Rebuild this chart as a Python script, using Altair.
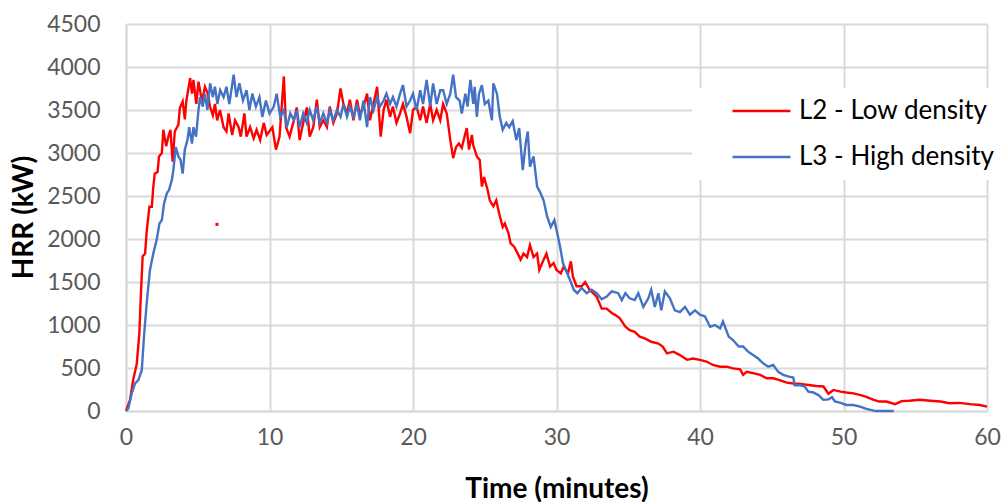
import altair as alt
import pandas as pd

# Fire test heat release rate, two fuel-load densities
SERIES = ["L2 - Low density", "L3 - High density"]
COLORS = ["#ff0000", "#4472c4"]

X_TICKS = [0, 10, 20, 30, 40, 50, 60]
Y_TICKS = [0, 500, 1000, 1500, 2000, 2500, 3000, 3500, 4000, 4500]

# L2 - low density: time (min) and HRR (kW)
L2_TIME = [
    0, 0.28, 0.5, 0.75, 0.93, 1.02, 1.16, 1.33, 1.44, 1.63,
    1.8, 1.9, 2.0, 2.2, 2.3, 2.5, 2.6, 2.8, 2.95, 3.1,
    3.25, 3.4, 3.65, 3.75, 3.95, 4.1, 4.2, 4.47, 4.6, 4.7,
    4.9, 5.05, 5.3, 5.5, 5.7, 5.85, 6.05, 6.2, 6.35, 6.55,
    6.8, 7.0, 7.15, 7.4, 7.6, 7.85, 8.0, 8.25, 8.4, 8.65,
    8.9, 9.1, 9.35, 9.6, 9.8, 10.2, 10.45, 10.7, 11.0, 11.15,
    11.4, 11.7,
    11.9, 12.1, 12.35, 12.6, 12.8, 13.05, 13.3, 13.5, 13.75, 14.0,
    14.2, 14.45, 14.7, 14.95, 15.15, 15.4, 15.6, 15.85, 16.1, 16.3,
    16.55, 16.8, 17.0, 17.25, 17.5, 17.75, 17.95, 18.15, 18.4, 18.6,
    18.85, 19.1, 19.3, 19.55, 19.8, 20.0, 20.25, 20.5, 20.7, 20.95,
    21.2, 21.4, 21.65, 21.9,
    22.1, 22.35, 22.6, 22.8, 23.0, 23.2, 23.4, 23.65, 23.75, 23.9,
    24.1, 24.2, 24.45, 24.65, 24.8, 24.95, 25.2, 25.35, 25.6, 25.8,
    26.0, 26.25, 26.4, 26.65, 26.8, 27.05, 27.3, 27.5, 27.7, 27.95,
    28.15, 28.4, 28.65, 28.8, 29.0, 29.3, 29.55, 29.8, 30.0, 30.3,
    30.5, 30.8, 31.0, 31.15, 31.4, 31.75, 32.0, 32.3, 32.55, 32.8,
    33.15, 33.5, 33.85,
    34.1, 34.4, 34.8, 35.1, 35.45, 35.8, 36.15, 36.6, 37.1, 37.4,
    37.7, 38.15, 38.6, 39.1, 39.5, 40.0, 40.45, 40.9, 41.4, 41.85,
    42.3, 42.8, 43.0, 43.25, 43.7, 44.2, 44.65, 45.1, 45.55,
    46.05, 46.5, 47.0, 47.7, 48.1, 48.6, 48.95, 49.3, 49.8, 50.2,
    50.7, 51.2, 51.6, 52.1, 52.5, 53.0, 53.6, 54.05, 54.6, 55.3,
    56.05, 56.75, 57.4, 58.1, 58.8, 59.5, 60.0,
]
L2_HRR = [
    0, 130, 360, 550, 900, 1290, 1800, 1830, 2085, 2375,
    2375, 2600, 2760, 2780, 2960, 3000, 3270, 3080, 3190, 3270,
    2900, 3250, 3330, 3520, 3600, 3390, 3600, 3870, 3690, 3850,
    3570, 3830, 3600, 3770, 3690, 3540, 3440, 3570, 3380, 3500,
    3300, 3250, 3460, 3210, 3380, 3300, 3190, 3460, 3190, 3300,
    3170, 3270, 3150, 3350, 3210, 3300, 3040, 3190, 3890, 3300,
    3190, 3380,
    3530, 3150, 3350, 3530, 3190, 3300, 3620, 3300, 3380, 3300,
    3540, 3350, 3460, 3750, 3570, 3460, 3620, 3380, 3620, 3440,
    3540, 3690, 3380, 3570, 3770, 3190, 3500, 3620, 3420, 3540,
    3350, 3460, 3570, 3420, 3230, 3500, 3540, 3380, 3540, 3350,
    3570, 3380, 3500, 3380,
    3570, 3460, 3150, 2940, 3070, 3110, 3060, 3230, 3290, 3040,
    3210, 3090, 2960, 2920, 2610, 2720, 2570, 2450, 2380, 2450,
    2300, 2140, 2180, 2070, 1950, 1910, 1830, 1760, 1830, 1790,
    1930, 1790, 1830, 1640, 1720, 1830, 1680, 1720, 1640, 1600,
    1680, 1600, 1740, 1560, 1450, 1450, 1500, 1410, 1370, 1330,
    1190, 1190, 1140,
    1115, 1080, 980, 940, 920, 865, 845, 805, 785, 750,
    670, 690, 650, 595, 610, 595, 575, 535, 515, 515,
    495, 485, 420, 455, 440, 420, 380, 380, 360,
    330, 320, 315, 300, 290, 285, 200, 245, 225, 215,
    205, 185, 165, 130, 110, 110, 80, 115, 120, 130,
    120, 110, 90, 95, 80, 70, 50,
]

# single outlying L2 sample logged during the growth phase
L2_STRAY_TIME = [6.34]
L2_STRAY_HRR = [2170]

# L3 - high density: time (min) and HRR (kW)
L3_TIME = [
    0, 0.16, 0.4, 0.63, 0.86, 1.1, 1.25, 1.44, 1.67, 1.9,
    2.14, 2.33, 2.5, 2.65, 2.84, 3.0, 3.2, 3.3, 3.47, 3.65,
    3.8, 3.95, 4.1, 4.28, 4.4, 4.6, 4.7, 4.88, 5.05, 5.16,
    5.35, 5.5, 5.67, 5.86, 6.05, 6.2, 6.37, 6.56, 6.8, 7.0,
    7.2, 7.5, 7.7, 7.9, 8.15, 8.4, 8.6, 8.8, 9.05, 9.3,
    9.5, 9.75, 10.0, 10.3, 10.5, 10.75, 11.0, 11.2, 11.45, 11.7,
    11.9, 12.1, 12.35, 12.6, 12.8, 13.05, 13.3, 13.5, 13.75, 14.0,
    14.2, 14.45, 14.7, 14.95, 15.15, 15.4, 15.6, 15.85, 16.1, 16.3,
    16.55, 16.8, 17.0, 17.25, 17.5, 17.7, 17.95, 18.15, 18.4, 18.6,
    18.85, 19.1, 19.3, 19.55, 19.8, 20.0, 20.25, 20.5, 20.7, 20.95,
    21.2, 21.4, 21.65, 21.9,
    22.1, 22.35, 22.6, 22.8, 23.0, 23.25, 23.4, 23.65, 23.8, 24.0,
    24.2, 24.3, 24.45, 24.6, 24.8, 25.0, 25.25, 25.5, 25.6, 25.85,
    26.05, 26.25, 26.5, 26.7, 26.95, 27.2, 27.4, 27.65, 27.85, 28.0,
    28.15, 28.4, 28.65, 28.9, 29.1, 29.35, 29.6, 29.85, 30.05, 30.25,
    30.45, 30.65, 30.95, 31.2, 31.45, 31.75, 32.1, 32.45, 32.8, 33.15,
    33.5, 33.85,
    34.3, 34.55, 34.8, 35.1, 35.45, 35.7, 36.05, 36.4, 36.6, 36.85,
    37.1, 37.3, 37.55, 37.9, 38.25, 38.6, 38.95, 39.3, 39.65, 40.0,
    40.35, 40.7, 41.05, 41.4, 41.6, 42.0, 42.3, 42.7, 43.0, 43.35,
    43.7, 44.05, 44.4, 44.75, 45.1, 45.45, 45.8, 46.2, 46.5, 46.6,
    46.95, 47.3, 47.55, 47.9, 48.25, 48.6, 48.95, 49.2, 49.4, 49.8,
    50.2, 50.7, 51.15, 51.6, 52.1, 52.3, 52.8, 53.5,
]
L3_HRR = [
    0, 30, 205, 320, 360, 475, 860, 1250, 1640, 1830,
    1990, 2180, 2220, 2410, 2530, 2570, 2690, 2800, 3070, 2960,
    2920, 2760, 3040, 3150, 3300, 3110, 3300, 3190, 3500, 3650,
    3540, 3690, 3500, 3810, 3650, 3770, 3570, 3730, 3650, 3770,
    3570, 3910, 3650, 3810, 3610, 3730, 3500, 3690, 3540, 3650,
    3420, 3610, 3460, 3540, 3690, 3420, 3500, 3300, 3460, 3380,
    3500, 3300, 3460, 3350, 3500, 3380, 3540, 3350, 3460, 3350,
    3500, 3380, 3500, 3420, 3570, 3420, 3540, 3420, 3570, 3380,
    3610, 3300, 3650, 3500, 3650, 3540, 3610, 3690, 3570, 3650,
    3540, 3690, 3790, 3540, 3610, 3690, 3500, 3730, 3570, 3850,
    3540, 3810, 3570, 3730,
    3730, 3570, 3690, 3910, 3650, 3610, 3460, 3690, 3540, 3850,
    3570, 3770, 3420, 3690, 3790, 3570, 3610, 3380, 3810, 3690,
    3420, 3270, 3350, 3300, 3370, 3150, 3290, 2800, 3110, 3250,
    2840, 2960, 2610, 2530, 2450, 2260, 2140, 2220, 2070, 1910,
    1720, 1640, 1520, 1410, 1370, 1430, 1370, 1410, 1370, 1300,
    1330, 1390,
    1370, 1290, 1370, 1310, 1290, 1370, 1210, 1310, 1410, 1210,
    1370, 1170, 1390, 1310, 1170, 1150, 1210, 1120, 1170, 1120,
    1100, 980, 1000, 960, 1040, 865, 825, 750, 750, 690,
    650, 610, 555, 515, 535, 455, 420, 400, 390, 300,
    300, 285, 225, 215, 185, 130, 135, 160, 110, 95,
    70, 70, 50, 25, 5, 0, 0, 0,
]

FONT = "Lato"
GRID = "#d9d9d9"

lines_df = pd.concat(
    [
        pd.DataFrame({"series": SERIES[0], "time": L2_TIME, "hrr": L2_HRR}),
        pd.DataFrame({"series": SERIES[1], "time": L3_TIME, "hrr": L3_HRR}),
    ],
    ignore_index=True,
)
stray_df = pd.DataFrame({"time": L2_STRAY_TIME, "hrr": L2_STRAY_HRR})

x_enc = alt.X(
    "time:Q",
    scale=alt.Scale(domain=[0, 60], nice=False),
    axis=alt.Axis(
        values=X_TICKS,
        title="Time (minutes)",
        grid=True,
        gridColor=GRID,
        gridWidth=2,
        domainColor=GRID,
        domainWidth=2,
        ticks=False,
        tickSize=0,
        labelFlush=False,
        labelFont=FONT,
        labelFontSize=23,
        labelColor="#595959",
        labelPadding=15,
        titleFont=FONT,
        titleFontSize=28,
        titleFontWeight="bold",
        titleColor="#000000",
        titleBaseline="alphabetic",
        titleY=86,
    ),
)
y_enc = alt.Y(
    "hrr:Q",
    scale=alt.Scale(domain=[0, 4500], nice=False),
    axis=alt.Axis(
        values=Y_TICKS,
        format="d",
        title="HRR (kW)",
        grid=True,
        gridColor=GRID,
        gridWidth=2,
        domainColor=GRID,
        domainWidth=2,
        ticks=False,
        tickSize=0,
        labelFont=FONT,
        labelFontSize=23,
        labelColor="#595959",
        labelPadding=26,
        titleFont=FONT,
        titleFontSize=28,
        titleFontWeight="bold",
        titleColor="#000000",
        titleBaseline="alphabetic",
        titleAngle=270,
        titleX=-94,
        titleY=193,
    ),
)

lines = alt.Chart(lines_df).mark_line(strokeWidth=2.4).encode(
    x=x_enc,
    y=y_enc,
    color=alt.Color(
        "series:N",
        scale=alt.Scale(domain=SERIES, range=COLORS),
        legend=alt.Legend(
            title=None,
            orient="none",
            legendX=566,
            legendY=64,
            fillColor="white",
            padding=3,
            symbolType="stroke",
            symbolSize=3364,
            symbolStrokeWidth=2.5,
            symbolOffset=36,
            clipHeight=40,
            rowPadding=6,
            labelFont=FONT,
            labelFontSize=26,
            labelColor="#000000",
            labelOffset=7,
            labelLimit=400,
        ),
    ),
    order=alt.Order("time:Q"),
)

stray = alt.Chart(stray_df).mark_square(size=9, color="#ff0000", opacity=1).encode(
    x="time:Q", y="hrr:Q"
)

chart = (
    alt.layer(lines, stray)
    .properties(
        width=861,
        height=387,
        autosize=alt.AutoSizeParams(type="none"),
        padding={"left": 126, "top": 24, "right": 17, "bottom": 91},
        background="white",
    )
    .configure_view(stroke=None)
)

chart.save("out.html", embed_options={"renderer": "svg", "actions": False})
